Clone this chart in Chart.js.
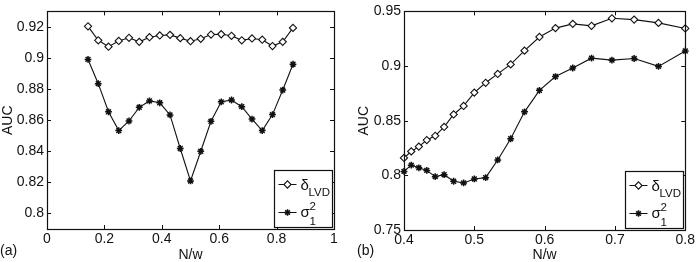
<!DOCTYPE html>
<html><head><meta charset="utf-8">
<script src="https://cdn.jsdelivr.net/npm/chart.js@4/dist/chart.umd.min.js"></script>
<style>
html,body{margin:0;padding:0;background:#fff;}
#wrap{position:relative;width:697px;height:262px;overflow:hidden;background:#fff;}
canvas{position:absolute;top:0;}
</style></head><body>
<div id="wrap">
<canvas id="ca" width="348" height="262" style="left:0"></canvas>
<canvas id="cb" width="349" height="262" style="left:348px"></canvas>
</div>
<script>
// ---- Panel (a) ----
const xA = [0.1429,0.1786,0.2143,0.25,0.2857,0.3214,0.3571,0.3929,0.4286,0.4643,0.5,0.5357,0.5714,0.6071,0.6429,0.6786,0.7143,0.75,0.7857,0.8214,0.8571];
const deltaA = [0.9204,0.9114,0.9073,0.9110,0.9130,0.9104,0.9134,0.9145,0.9149,0.9128,0.9108,0.9124,0.9151,0.9153,0.9143,0.9114,0.9126,0.9118,0.9077,0.9104,0.9194];
const sigmaA = [0.8991,0.8835,0.8654,0.8533,0.8595,0.8683,0.8724,0.8712,0.8634,0.8418,0.8209,0.8400,0.8593,0.8718,0.8730,0.8687,0.8607,0.8533,0.8636,0.8794,0.8960];
const xTicksA = [0,0.2,0.4,0.6,0.8,1];
const xTickLabelsA = ['0','0.2','0.4','0.6','0.8','1'];
const yTicksA = [0.8,0.82,0.84,0.86,0.88,0.9,0.92];
const yTickLabelsA = ['0.8','0.82','0.84','0.86','0.88','0.9','0.92'];

// ---- Panel (b) ----
const xB = [0.4,0.4103,0.4211,0.4324,0.4444,0.4571,0.4706,0.4848,0.5,0.5161,0.5333,0.5517,0.5714,0.5926,0.6154,0.64,0.6667,0.6957,0.7273,0.7619,0.8];
const deltaB = [0.8159,0.8219,0.8263,0.8323,0.8362,0.8443,0.8557,0.8635,0.8757,0.8847,0.8928,0.9015,0.9141,0.9266,0.9347,0.9386,0.9368,0.9437,0.9425,0.9395,0.9344];
const sigmaB = [0.8036,0.8093,0.8069,0.8045,0.7988,0.8006,0.7946,0.7931,0.7967,0.7979,0.8141,0.8335,0.8581,0.8778,0.8904,0.8982,0.9072,0.9054,0.9069,0.8997,0.9138];
const xTicksB = [0.4,0.5,0.6,0.7,0.8];
const xTickLabelsB = ['0.4','0.5','0.6','0.7','0.8'];
const yTicksB = [0.75,0.8,0.85,0.9,0.95];
const yTickLabelsB = ['0.75','0.8','0.85','0.9','0.95'];

const FONT = 'Liberation Sans, Arial, Helvetica, sans-serif';
const INK = '#111';

function pts(xs, ys){ return xs.map((x,i)=>({x:x, y:ys[i]})); }

function drawDiamond(ctx,x,y,r){
  ctx.beginPath();
  ctx.moveTo(x,y-r);ctx.lineTo(x+r,y);ctx.lineTo(x,y+r);ctx.lineTo(x-r,y);ctx.closePath();
  ctx.fillStyle='#fff';ctx.fill();ctx.lineWidth=1.1;ctx.strokeStyle=INK;ctx.stroke();
}
function drawStar(ctx,x,y,r){
  ctx.beginPath();
  ctx.lineWidth=1.5;ctx.strokeStyle=INK;
  ctx.moveTo(x-r,y);ctx.lineTo(x+r,y);
  ctx.moveTo(x,y-r);ctx.lineTo(x,y+r);
  const d=r*0.72;
  ctx.moveTo(x-d,y-d);ctx.lineTo(x+d,y+d);
  ctx.moveTo(x-d,y+d);ctx.lineTo(x+d,y-d);
  ctx.stroke();
}

const framePlugin = {
  id:'frame',
  beforeDraw(chart){
    const c=chart.ctx; c.save(); c.fillStyle='#fff'; c.fillRect(0,0,chart.width,chart.height); c.restore();
  },
  afterDraw(chart, args, opts){
    const c=chart.ctx, a=chart.chartArea;
    const xs=chart.scales.x, ys=chart.scales.y;
    c.save();
    c.strokeStyle=INK; c.lineWidth=1.2;
    c.strokeRect(Math.round(a.left)+0.5, Math.round(a.top)+0.5, Math.round(a.right-a.left), Math.round(a.bottom-a.top));
    const TL=4;
    c.lineWidth=1;
    c.beginPath();
    xs.ticks.forEach(t=>{
      const px=Math.round(xs.getPixelForValue(t.value))+0.5;
      c.moveTo(px,a.bottom); c.lineTo(px,a.bottom-TL);
      c.moveTo(px,a.top); c.lineTo(px,a.top+TL);
    });
    ys.ticks.forEach(t=>{
      const py=Math.round(ys.getPixelForValue(t.value))+0.5;
      c.moveTo(a.left,py); c.lineTo(a.left+TL,py);
      c.moveTo(a.right,py); c.lineTo(a.right-TL,py);
    });
    c.stroke();
    // legend
    const bw=58, bh=57;
    const bx=Math.round(a.right-2-bw)+0.5, by=Math.round(a.bottom-2-bh)+0.5;
    c.fillStyle='#fff'; c.fillRect(bx,by,bw,bh);
    c.lineWidth=1.2; c.strokeStyle=INK; c.strokeRect(bx,by,bw,bh);
    const r1=by+14, r2=by+42;
    c.lineWidth=1; c.beginPath();
    c.moveTo(bx+4,r1); c.lineTo(bx+22,r1);
    c.moveTo(bx+4,r2); c.lineTo(bx+22,r2);
    c.stroke();
    drawDiamond(c,bx+13,r1,3.6);
    drawStar(c,bx+13,r2,3.2);
    c.fillStyle=INK; c.textBaseline='alphabetic'; c.textAlign='left';
    c.font='15px '+FONT;
    c.fillText('δ', bx+26, r1+5);
    c.fillText('σ', bx+26, r2+4);
    c.font='11.5px '+FONT;
    c.fillText('LVD', bx+34, r1+11);
    c.fillText('1', bx+35, r2+12);
    c.fillText('2', bx+35, r2-3);
    // panel tag
    c.font='14px '+FONT; c.textBaseline='middle';
    c.fillText(opts.tag, opts.tagX, 251);
    c.restore();
  }
};

function makeChart(id, xs, d1, d2, xr, yr, xT, xL, yT, yL, geo){
  return new Chart(document.getElementById(id), {
    type:'line',
    data:{datasets:[
      {label:'δLVD', data:pts(xs,d1), borderColor:INK, borderWidth:1.1, pointStyle:'rectRot', pointRadius:3.6,
       pointBackgroundColor:'#fff', pointBorderColor:INK, pointBorderWidth:1.1, tension:0, clip:false},
      {label:'σ1²', data:pts(xs,d2), borderColor:INK, borderWidth:1.1, pointStyle:'star', pointRadius:3.4,
       pointBackgroundColor:INK, pointBorderColor:INK, pointBorderWidth:1.5, tension:0, clip:false}
    ]},
    options:{
      responsive:false, animation:false, devicePixelRatio:1,
      layout:{padding:{left:0, top:geo.top, right:geo.right, bottom:0}},
      plugins:{legend:{display:false}, tooltip:{enabled:false}, frame:{tag:geo.tag, tagX:geo.tagX}},
      scales:{
        x:{type:'linear', min:xr[0], max:xr[1],
           grid:{display:false, drawTicks:false, tickLength:0}, border:{display:false},
           afterBuildTicks:(s)=>{ s.ticks = xT.map(v=>({value:v})); },
           afterFit:(s)=>{ s.height = geo.xh; },
           ticks:{autoSkip:false, maxRotation:0, padding:2, color:INK, font:{family:FONT, size:14},
                  callback:(v,i)=>xL[i]},
           title:{display:true, text:'N/w', color:INK, font:{family:FONT, size:14, lineHeight:1.0}, padding:{top:0,bottom:0}}
        },
        y:{type:'linear', min:yr[0], max:yr[1],
           grid:{display:false, drawTicks:false, tickLength:0}, border:{display:false},
           afterBuildTicks:(s)=>{ s.ticks = yT.map(v=>({value:v})); },
           afterFit:(s)=>{ s.width = geo.yw; },
           ticks:{autoSkip:false, padding:3, color:INK, font:{family:FONT, size:14},
                  callback:(v,i)=>yL[i]},
           title:{display:true, text:'AUC', color:INK, font:{family:FONT, size:14, lineHeight:1.2}, padding:{top:geo.ytp,bottom:0}}
        }
      }
    },
    plugins:[framePlugin]
  });
}

makeChart('ca', xA, deltaA, sigmaA, [0,1], [0.79,0.93], xTicksA, xTickLabelsA, yTicksA, yTickLabelsA,
  {top:3, right:14, xh:33, yw:47, ytp:0, tag:'(a)', tagX:0});
makeChart('cb', xB, deltaB, sigmaB, [0.4,0.8], [0.75,0.95], xTicksB, xTickLabelsB, yTicksB, yTickLabelsB,
  {top:7, right:10, xh:32, yw:56, ytp:8, tag:'(b)', tagX:9});
</script>
</body></html>
